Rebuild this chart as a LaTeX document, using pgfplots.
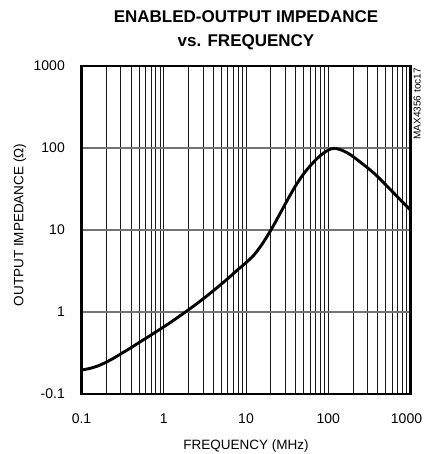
\documentclass[border=0pt]{standalone}
\usepackage{pgfplots}
\pgfplotsset{compat=1.18}
\usepackage{fontspec}
\setmainfont{Liberation Sans}
\begin{document}
\begin{tikzpicture}
\useasboundingbox (-81.5pt,-60pt) rectangle (342.5pt,394pt);
\begin{axis}[
  at={(0pt,0pt)}, anchor=south west,
  scale only axis, width=329pt, height=328pt,
  xmode=log, ymode=log,
  xmin=0.1, xmax=1000, ymin=0.1, ymax=1000,
  xtick={0.1,1,10,100,1000},
  xticklabels={0.1,1,10,100,\hspace{-8pt}1000},
  ytick={0.1,1,10,100,1000},
  yticklabels={-0.1,1,10,100,1000},
  /pgf/number format/assume math mode=true,
  tick label style={font=\fontsize{14}{16}\selectfont},
  xticklabel style={anchor=base, inner sep=0pt, yshift=-29.3pt},
  yticklabel style={anchor=east, inner sep=0pt, xshift=-16.5pt},
  major tick length=0pt, minor tick length=0pt,
  xmajorgrids, xminorgrids, ymajorgrids, yminorgrids=false,
  major x grid style={black!90, line width=0.8pt},
  minor x grid style={black!90, line width=0.8pt},
  major y grid style={black!55, line width=1.2pt},
  axis line style={line width=2.8pt, black},
  clip=true,
]
\addplot[black, line width=2.9pt, smooth, tension=0.5] coordinates {
(0.1,0.196) (0.1259,0.205) (0.1585,0.220) (0.1995,0.244) (0.2512,0.277)
(0.3162,0.318) (0.3981,0.366) (0.5012,0.424) (0.631,0.490) (0.794,0.568)
(1,0.659) (1.259,0.769) (1.585,0.902) (1.995,1.062) (2.512,1.259)
(3.162,1.503) (3.981,1.807) (5.012,2.188) (6.31,2.667) (7.943,3.281)
(10,3.99) (12.59,5.00) (15.85,6.82) (19.95,9.86) (25.12,14.93)
(31.62,22.86) (39.81,34.2) (50.12,48.3) (63.1,63.7) (79.43,80.2)
(100,94.4) (117.5,99.1) (138,95.9) (158.5,90.6) (187.9,82.2)
(251.2,66.1) (362.2,49.0) (501.2,35.5) (631,28.0) (794.3,22.1) (1000,17.5)
};
\end{axis}
\node[anchor=base, font=\fontsize{17}{20}\selectfont\bfseries] at (164.5pt,371.3pt) {ENABLED-OUTPUT IMPEDANCE};
\node[anchor=base, font=\fontsize{17}{20}\selectfont\bfseries] at (164.5pt,347.3pt) {vs. FREQUENCY};
\node[anchor=base, font=\fontsize{13.5}{16}\selectfont] at (164.5pt,-55pt) {FREQUENCY (MHz)};
\node[rotate=90, font=\fontsize{13.5}{16}\selectfont] at (-61.5pt,169pt) {OUTPUT IMPEDANCE (Ω)};
\node[rotate=90, anchor=north east, inner sep=0pt, font=\fontsize{10}{12}\selectfont] at (332pt,326pt) {MAX4356 toc17};
\end{tikzpicture}
\end{document}
